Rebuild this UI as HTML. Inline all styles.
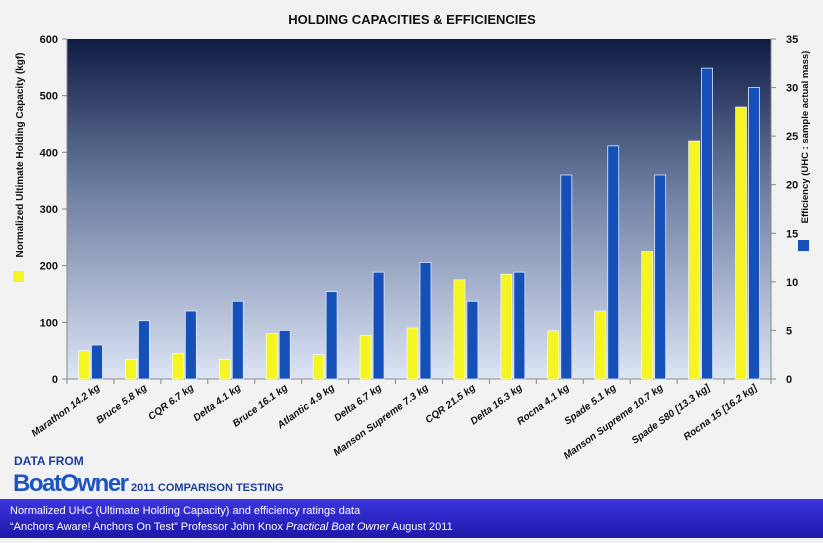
<!DOCTYPE html>
<html><head><meta charset="utf-8"><style>
body{margin:0;width:823px;height:538px;overflow:hidden;background:#f2f2f2;font-family:"Liberation Sans",sans-serif}
</style></head><body>
<svg width="823" height="538" xmlns="http://www.w3.org/2000/svg" font-family="Liberation Sans, sans-serif">
<defs>
<linearGradient id="bg" x1="0" y1="0" x2="0" y2="1"><stop offset="0" stop-color="#0e1b44"/><stop offset="0.45" stop-color="#6f7fa3"/><stop offset="1" stop-color="#dde5f5"/></linearGradient>
<linearGradient id="ft" x1="0" y1="0" x2="0" y2="1"><stop offset="0" stop-color="#3d36e0"/><stop offset="1" stop-color="#1e17a8"/></linearGradient>
</defs>
<rect width="823" height="538" fill="#f2f2f2"/>
<text x="412" y="24" text-anchor="middle" font-size="13" font-weight="bold" fill="#111">HOLDING CAPACITIES &amp; EFFICIENCIES</text>
<rect x="67" y="39" width="704" height="340" fill="url(#bg)"/>
<g id="axes"></g>
<g id="bars"></g>
<g id="labels"></g>
<text transform="translate(23,155) rotate(-90)" text-anchor="middle" font-size="10" font-weight="bold" fill="#111">Normalized Ultimate Holding Capacity (kgf)</text>
<rect x="13" y="271" width="11" height="11" fill="#f5f523"/>
<text transform="translate(808,137) rotate(-90)" text-anchor="middle" font-size="9.5" font-weight="bold" fill="#111">Efficiency (UHC : sample actual mass)</text>
<rect x="798" y="240" width="11" height="11" fill="#1450b8"/>
<text x="14" y="465" font-size="12" font-weight="bold" fill="#1c3d9a">DATA FROM</text>
<text x="13" y="491" font-size="24" font-weight="bold" fill="#1c55c0" letter-spacing="-1.5">BoatOwner</text>
<text x="131" y="491" font-size="11" font-weight="bold" fill="#1c3d9a">2011 COMPARISON TESTING</text>
<rect x="0" y="499" width="823" height="39" fill="url(#ft)"/>
<text x="10" y="514" font-size="11" fill="#fff">Normalized UHC (Ultimate Holding Capacity) and efficiency ratings data</text>
<text x="10" y="530" font-size="11" fill="#fff">“Anchors Aware! Anchors On Test” Professor John Knox <tspan font-style="italic">Practical Boat Owner</tspan> August 2011</text>
</svg>
<script>
const categories=["Marathon 14.2 kg","Bruce 5.8 kg","CQR 6.7 kg","Delta 4.1 kg","Bruce 16.1 kg","Atlantic 4.9 kg","Delta 6.7 kg","Manson Supreme 7.3 kg","CQR 21.5 kg","Delta 16.3 kg","Rocna 4.1 kg","Spade 5.1 kg","Manson Supreme 10.7 kg","Spade S80 [13.3 kg]","Rocna 15 [16.2 kg]"];
const uhc=[50,35,45,35,80,43,77,90,175,185,85,120,225,420,480];
const efficiency=[3.5,6,7,8,5,9,11,12,8,11,21,24,21,32,30];
const leftTicks=[0,100,200,300,400,500,600];
const rightTicks=[0,5,10,15,20,25,30,35];
const NS="http://www.w3.org/2000/svg";
const X0=67,X1=771,Y0=379,Y1=39;
const yL=v=>Y0-(v/600)*(Y0-Y1);
const yR=v=>Y0-(v/35)*(Y0-Y1);
const bw=(X1-X0)/categories.length;
const xC=i=>X0+bw*(i+0.5);
function mk(tag,attrs,parent,txt){const e=document.createElementNS(NS,tag);for(const k in attrs)e.setAttribute(k,attrs[k]);if(txt!==undefined)e.textContent=txt;parent.appendChild(e);return e;}
const ax=document.getElementById('axes'),bars=document.getElementById('bars'),lb=document.getElementById('labels');
let l=mk('line',{x1:X0,y1:Y1,x2:X0,y2:Y0,stroke:'#888'},ax);


l=mk('line',{x1:X1,y1:Y1,x2:X1,y2:Y0,stroke:'#888'},ax);


l=mk('line',{x1:X0,y1:Y0,x2:X1,y2:Y0,stroke:'#888'},ax);


leftTicks.forEach(v=>{mk('line',{x1:X0-5,y1:yL(v),x2:X0,y2:yL(v),stroke:'#888'},ax);
const t=mk('text',{x:X0-9,y:yL(v)+4,'text-anchor':'end','font-size':11,'font-weight':'bold',fill:'#111'},lb,v);

});
rightTicks.forEach(v=>{mk('line',{x1:X1,y1:yR(v),x2:X1+5,y2:yR(v),stroke:'#888'},ax);
const t=mk('text',{x:X1+15,y:yR(v)+4,'text-anchor':'start','font-size':11,'font-weight':'bold',fill:'#111'},lb,v);

});
for(let i=0;i<=categories.length;i++)mk('line',{x1:X0+bw*i,y1:Y0,x2:X0+bw*i,y2:Y0+5,stroke:'#888'},ax);
categories.forEach((c,i)=>{
const cx=xC(i);
const a=mk('rect',{x:cx-12,y:yL(uhc[i]),width:11,height:Y0-yL(uhc[i]),fill:'#f5f523',stroke:'#ffffff','stroke-width':0.6},bars);


const b=mk('rect',{x:cx+1,y:yR(efficiency[i]),width:11,height:Y0-yR(efficiency[i]),fill:'#1450b8',stroke:'#dbe8ff','stroke-width':0.8},bars);


const t=mk('text',{transform:`translate(${cx+10},${Y0+10}) rotate(-36)`,'text-anchor':'end','font-size':10,'font-weight':'bold','font-style':'italic',fill:'#111'},lb,c);


});
</script>
</body></html>
